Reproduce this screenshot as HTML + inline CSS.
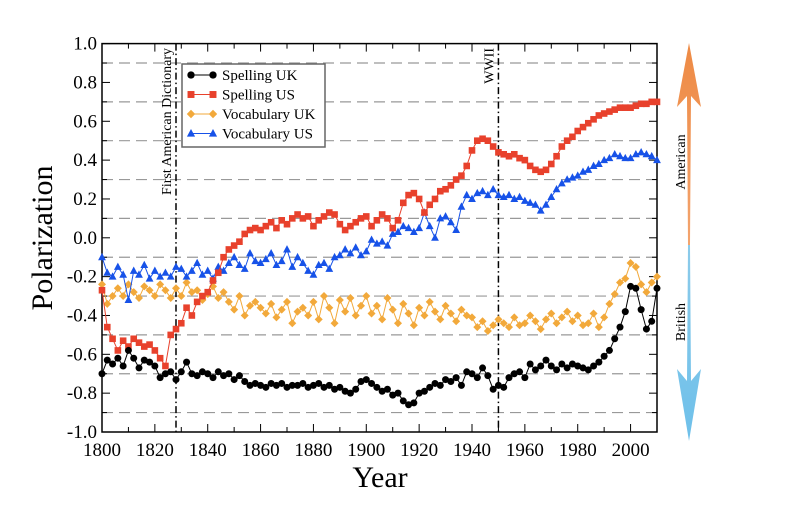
<!DOCTYPE html>
<html><head><meta charset="utf-8"><style>
html,body{margin:0;padding:0;background:#fff}
svg text{font-family:"Liberation Serif",serif}
</style></head><body>
<svg id="chart" width="801" height="517" viewBox="0 0 801 517" xmlns="http://www.w3.org/2000/svg">
<defs>
<linearGradient id="ga" x1="0" y1="0" x2="0" y2="1"><stop offset="0" stop-color="#ee8a44"/><stop offset="1" stop-color="#f3a46e"/></linearGradient>
<linearGradient id="gb" x1="0" y1="0" x2="0" y2="1"><stop offset="0" stop-color="#8ccbea"/><stop offset="1" stop-color="#6ec0ea"/></linearGradient>
</defs>
<g id="grid"></g>
<g id="axes"></g>
<g id="series"></g>
<g>
<rect x="182" y="64" width="143" height="83" fill="#fff" stroke="#666" stroke-width="1.5"/>
<g id="legend"></g>
</g>
<g>
<polygon points="689,43 701,107 691,96 690,245 688,245 687,96 677,107" fill="url(#ga)"/>
<polygon points="689,441 701,369 691,381 690,245 688,245 687,381 677,369" fill="url(#gb)"/>
<text x="0" y="0" transform="translate(685,162) rotate(-90)" text-anchor="middle" font-size="14">American</text>
<text x="0" y="0" transform="translate(685,322) rotate(-90)" text-anchor="middle" font-size="14">British</text>
</g>
<text x="0" y="0" transform="translate(52,238) rotate(-90)" text-anchor="middle" font-size="30">Polarization</text>
<text x="380" y="487" text-anchor="middle" font-size="30">Year</text>
</svg>
<script>
const years = [];
for (let y = 1800; y <= 2010; y += 2) years.push(y);
const spellingUK = [-0.70,-0.63,-0.65,-0.62,-0.66,-0.58,-0.62,-0.67,-0.63,-0.64,
-0.66,-0.72,-0.70,-0.69,-0.73,-0.69,-0.64,-0.70,-0.71,-0.69,
-0.70,-0.72,-0.69,-0.71,-0.70,-0.73,-0.71,-0.74,-0.76,-0.75,
-0.76,-0.77,-0.75,-0.76,-0.75,-0.77,-0.76,-0.76,-0.75,-0.77,
-0.76,-0.75,-0.77,-0.76,-0.78,-0.77,-0.79,-0.80,-0.78,-0.74,
-0.73,-0.75,-0.77,-0.79,-0.78,-0.81,-0.80,-0.84,-0.86,-0.85,
-0.80,-0.79,-0.77,-0.75,-0.76,-0.73,-0.74,-0.72,-0.76,-0.69,
-0.70,-0.72,-0.67,-0.71,-0.78,-0.76,-0.77,-0.72,-0.70,-0.69,
-0.72,-0.65,-0.68,-0.66,-0.63,-0.66,-0.68,-0.65,-0.67,-0.65,
-0.66,-0.67,-0.68,-0.66,-0.64,-0.61,-0.58,-0.52,-0.46,-0.38,
-0.25,-0.26,-0.37,-0.47,-0.43,-0.26];
const spellingUS = [-0.27,-0.46,-0.52,-0.58,-0.53,-0.56,-0.52,-0.54,-0.56,-0.55,
-0.58,-0.62,-0.66,-0.50,-0.47,-0.44,-0.36,-0.40,-0.33,-0.30,
-0.28,-0.22,-0.18,-0.10,-0.06,-0.04,-0.02,0.02,0.04,0.05,
0.04,0.06,0.08,0.05,0.09,0.07,0.10,0.12,0.10,0.11,
0.06,0.09,0.11,0.13,0.12,0.07,0.04,0.06,0.08,0.10,
0.11,0.06,0.09,0.12,0.10,0.05,0.09,0.18,0.22,0.23,
0.20,0.13,0.17,0.20,0.24,0.25,0.27,0.30,0.32,0.37,
0.45,0.50,0.51,0.50,0.47,0.44,0.43,0.42,0.43,0.41,
0.40,0.37,0.35,0.34,0.35,0.38,0.42,0.47,0.50,0.52,
0.55,0.57,0.59,0.61,0.63,0.64,0.65,0.66,0.67,0.67,
0.67,0.68,0.69,0.69,0.70,0.70];
const vocabUK = [-0.24,-0.34,-0.30,-0.26,-0.30,-0.24,-0.28,-0.31,-0.25,-0.27,
-0.30,-0.24,-0.27,-0.31,-0.26,-0.30,-0.23,-0.28,-0.27,-0.32,
-0.29,-0.25,-0.31,-0.28,-0.33,-0.37,-0.30,-0.40,-0.35,-0.33,
-0.36,-0.39,-0.34,-0.41,-0.37,-0.33,-0.44,-0.38,-0.36,-0.40,
-0.33,-0.42,-0.30,-0.36,-0.44,-0.32,-0.38,-0.31,-0.40,-0.35,
-0.30,-0.39,-0.35,-0.42,-0.31,-0.37,-0.44,-0.34,-0.39,-0.45,
-0.36,-0.40,-0.33,-0.38,-0.42,-0.35,-0.39,-0.43,-0.37,-0.40,
-0.41,-0.46,-0.43,-0.48,-0.45,-0.42,-0.44,-0.46,-0.41,-0.45,
-0.44,-0.40,-0.43,-0.47,-0.42,-0.39,-0.44,-0.41,-0.38,-0.43,
-0.40,-0.45,-0.44,-0.39,-0.46,-0.41,-0.34,-0.29,-0.23,-0.21,
-0.13,-0.15,-0.24,-0.28,-0.23,-0.20];
const vocabUS = [-0.10,-0.18,-0.20,-0.15,-0.19,-0.32,-0.17,-0.19,-0.14,-0.21,
-0.17,-0.20,-0.18,-0.20,-0.15,-0.16,-0.20,-0.17,-0.13,-0.19,
-0.17,-0.21,-0.15,-0.17,-0.13,-0.10,-0.14,-0.16,-0.08,-0.12,
-0.13,-0.11,-0.08,-0.14,-0.12,-0.06,-0.15,-0.10,-0.13,-0.17,
-0.19,-0.14,-0.13,-0.16,-0.10,-0.09,-0.06,-0.08,-0.05,-0.09,
-0.07,-0.01,-0.03,-0.02,-0.04,0.02,0.03,0.06,0.05,0.03,
0.05,0.13,0.06,0.00,0.10,0.11,0.08,0.04,0.16,0.22,
0.20,0.23,0.24,0.22,0.25,0.22,0.21,0.22,0.20,0.21,
0.19,0.18,0.17,0.14,0.17,0.21,0.25,0.28,0.30,0.31,
0.32,0.34,0.35,0.37,0.38,0.40,0.41,0.43,0.42,0.41,
0.41,0.43,0.44,0.43,0.42,0.40];
const xTicks = [1800,1820,1840,1860,1880,1900,1920,1940,1960,1980,2000];
const yTicks = [1.0,0.8,0.6,0.4,0.2,0.0,-0.2,-0.4,-0.6,-0.8,-1.0];
const seriesNames = ["Spelling UK","Spelling US","Vocabulary UK","Vocabulary US"];
const events = [1828, 1950];
const eventLabels = ["First American Dictionary","WWII"];

const NS = "http://www.w3.org/2000/svg";
const L = 102, R = 657, T = 43.6, B = 432;
const xs = v => L + (v - 1800) * (R - L) / 210;
const ys = v => T + (1 - v) * (B - T) / 2;
function mk(tag, attrs, parent) {
  const e = document.createElementNS(NS, tag);
  for (const k in attrs) e.setAttribute(k, attrs[k]);
  parent.appendChild(e); return e;
}
const grid = document.getElementById('grid');
const axes = document.getElementById('axes');
const ser = document.getElementById('series');

for (let k = -9; k <= 9; k += 2) {
  const l = mk('line', {x1: L, x2: R, y1: ys(k/10), y2: ys(k/10), stroke: '#999', 'stroke-width': 1.2, 'stroke-dasharray': '11,6'}, grid);
  
  
}
events.forEach((yr, i) => {
  const l = mk('line', {x1: xs(yr), x2: xs(yr), y1: T, y2: B, stroke: '#000', 'stroke-width': 1.5, 'stroke-dasharray': '7,3,1.5,3'}, grid);
  
  
  const tx = xs(yr) - 5, ty = 48;
  const t = mk('text', {x: 0, y: 0, transform: `translate(${tx},${ty}) rotate(-90)`, 'text-anchor': 'end', 'font-size': 14}, grid);
  t.textContent = eventLabels[i];
  
  
});

const frame = mk('rect', {x: L, y: T, width: R - L, height: B - T, fill: 'none', stroke: '#000', 'stroke-width': 1.5}, axes);


for (let yr = 1800; yr <= 2010; yr += 10) {
  const len = (yr % 20 === 0) ? 8 : 5;
  mk('line', {x1: xs(yr), x2: xs(yr), y1: B, y2: B - len, stroke: '#000', 'stroke-width': 1}, axes);
  mk('line', {x1: xs(yr), x2: xs(yr), y1: T, y2: T + len, stroke: '#000', 'stroke-width': 1}, axes);
}
for (let k = -10; k <= 10; k++) {
  const len = (k % 2 === 0) ? 8 : 5;
  mk('line', {x1: L, x2: L + len, y1: ys(k/10), y2: ys(k/10), stroke: '#000', 'stroke-width': 1}, axes);
  mk('line', {x1: R, x2: R - len, y1: ys(k/10), y2: ys(k/10), stroke: '#000', 'stroke-width': 1}, axes);
}
xTicks.forEach(v => {
  const t = mk('text', {x: xs(v), y: 456, 'text-anchor': 'middle', 'font-size': 19}, axes);
  t.textContent = v;
  
  
});
yTicks.forEach(v => {
  const t = mk('text', {x: 97, y: ys(v) + 6, 'text-anchor': 'end', 'font-size': 19}, axes);
  t.textContent = v.toFixed(1);
  
  
});

const styles = [
  {c: '#000', line: '#000', m: 'circle'},
  {c: '#e8412c', line: '#e8412c', m: 'square'},
  {c: '#f2a93b', line: '#f2a93b', m: 'diamond'},
  {c: '#1752e8', line: '#1752e8', m: 'triangle'}
];
function marker(g, type, x, y, c, s) {
  let e;
  if (type === 'circle') e = mk('circle', {cx: x, cy: y, r: 3.5*s, fill: c}, g);
  else if (type === 'square') e = mk('rect', {x: x - 3.3*s, y: y - 3.3*s, width: 6.6*s, height: 6.6*s, fill: c}, g);
  else if (type === 'diamond') e = mk('polygon', {points: `${x},${y-4*s} ${x+4*s},${y} ${x},${y+4*s} ${x-4*s},${y}`, fill: c}, g);
  else e = mk('polygon', {points: `${x},${y-4.3*s} ${x+3.9*s},${y+3*s} ${x-3.9*s},${y+3*s}`, fill: c}, g);
  return e;
}
const allSeries = [spellingUK, spellingUS, vocabUK, vocabUS];
const drawOrder = [2, 3, 1, 0];
drawOrder.forEach(si => {
  const vals = allSeries[si], st = styles[si];
  const g = mk('g', {}, ser);
  
  
  const pts = vals.map((v, i) => xs(years[i]) + ',' + ys(v)).join(' ');
  mk('polyline', {points: pts, fill: 'none', stroke: st.line, 'stroke-width': 1}, g);
  vals.forEach((v, i) => {
    const m = marker(g, st.m, xs(years[i]), ys(v), st.c, 1);
    
    
  });
});

const lg = document.getElementById('legend');
seriesNames.forEach((n, i) => {
  const y = 75 + i * 19.5, st = styles[i];
  const g = mk('g', {}, lg);
  
  
  mk('line', {x1: 191, x2: 213, y1: y, y2: y, stroke: st.line, 'stroke-width': 1}, g);
  marker(g, st.m, 191, y, st.c, 1.05);
  marker(g, st.m, 213, y, st.c, 1.05);
  const t = mk('text', {x: 222, y: y + 5, 'font-size': 15}, g);
  t.textContent = n;
});
</script>
</body></html>
